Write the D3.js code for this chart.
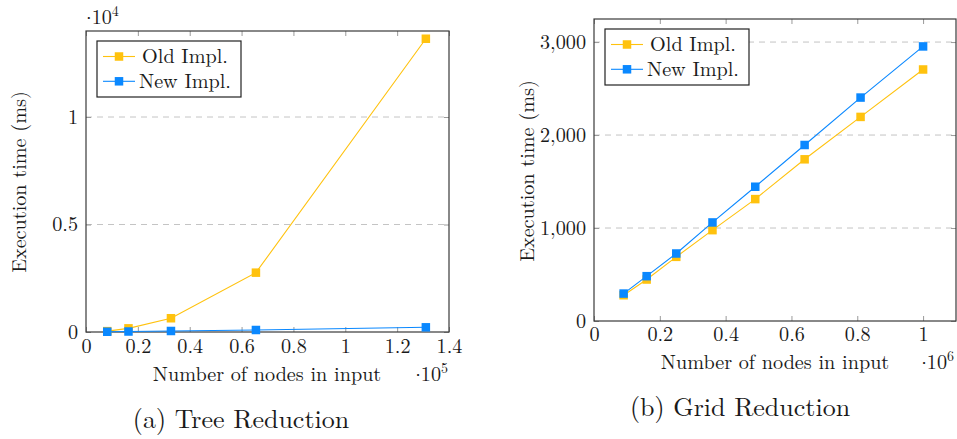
<!DOCTYPE html>
<html><head><meta charset="utf-8">
<script src="https://cdn.jsdelivr.net/npm/d3@7"></script>
<style>
body{margin:0;background:#fff;}
</style></head>
<body><svg id="c" width="957" height="439"></svg>
<script>
// Tree reduction (left)
const treeNodes = [8192, 16384, 32768, 65536, 131072];
const treeOld = [40, 170, 640, 2760, 13640];
const treeNew = [12, 23, 47, 93, 218];
const treeXTicks = [0, 0.2, 0.4, 0.6, 0.8, 1, 1.2, 1.4];
const treeYTicks = [0, 0.5, 1];

// Grid reduction (right)
const gridNodes = [90000, 160000, 250000, 360000, 490000, 640000, 810000, 1000000];
const gridOld = [277, 446, 690, 977, 1311, 1739, 2195, 2705];
const gridNew = [295, 482, 726, 1060, 1444, 1893, 2403, 2953];
const gridXTicks = [0, 0.2, 0.4, 0.6, 0.8, 1];
const gridYTicks = [0, 1000, 2000, 3000];

const seriesNames = ["Old Impl.", "New Impl."];
const colors = ["#FFC20E", "#0A88FF"];

const FONT = '"Latin Modern Roman","DejaVu Serif",serif';
const FS = 20.2;
const svg = d3.select("#c");
const T = (sel, size) => sel.style("font-family", FONT).style("font-size", size + "px").style("fill", "#1a1a1a");

function expLabel(parent, xPos, yPos, anchor, exp) {
  const t = T(parent.append("text").attr("x", xPos).attr("y", yPos).attr("text-anchor", anchor), FS);
  t.append("tspan").attr("dy", -5).text(".");
  t.append("tspan").attr("dy", 5).text("10");
  t.append("tspan").attr("dy", -8).style("font-size", "14px").text(exp);
  return t;
}

function panel(cfg){
  const g = svg.append("g");
  const x = d3.scaleLinear().domain(cfg.xDomain).range([cfg.left, cfg.right]);
  const y = d3.scaleLinear().domain(cfg.yDomain).range([cfg.bottom, cfg.top]);
  g.selectAll(".grid").data(cfg.yTicks.filter(v=>v>0)).enter().append("line")
    .attr("x1", cfg.left).attr("x2", cfg.right)
    .attr("y1", d=>y(d*cfg.yMul)).attr("y2", d=>y(d*cfg.yMul))
    .attr("stroke", "#c4c4c4").attr("stroke-width", 1).attr("stroke-dasharray", "6,5");
  const fmtX = cfg.xFmt, fmtY = cfg.yFmt;
  const xAxisB = d3.axisBottom(x).tickValues(cfg.xTicks.map(v=>v*cfg.xMul)).tickSize(-5).tickPadding(cfg.xPad).tickFormat(d=>fmtX(d/cfg.xMul));
  const xAxisT = d3.axisTop(x).tickValues(cfg.xTicks.map(v=>v*cfg.xMul)).tickSize(-5).tickFormat("");
  const yAxisL = d3.axisLeft(y).tickValues(cfg.yTicks.map(v=>v*cfg.yMul)).tickSize(-5).tickPadding(8).tickFormat(d=>fmtY(d/cfg.yMul));
  const yAxisR = d3.axisRight(y).tickValues(cfg.yTicks.map(v=>v*cfg.yMul)).tickSize(-5).tickFormat("");
  const styleAxis = sel => {
    sel.select(".domain").remove();
    sel.selectAll(".tick line").attr("stroke", "#9a9a9a");
    T(sel.selectAll(".tick text"), FS);
  };
  g.append("g").attr("transform", `translate(0,${cfg.bottom})`).call(xAxisB).call(styleAxis);
  g.append("g").attr("transform", `translate(0,${cfg.top})`).call(xAxisT).call(styleAxis);
  g.append("g").attr("transform", `translate(${cfg.left},0)`).call(yAxisL).call(styleAxis);
  g.append("g").attr("transform", `translate(${cfg.right},0)`).call(yAxisR).call(styleAxis);
  g.append("rect").attr("x", cfg.left).attr("y", cfg.top)
    .attr("width", cfg.right-cfg.left).attr("height", cfg.bottom-cfg.top)
    .attr("fill", "none").attr("stroke", "#3a3a3a").attr("stroke-width", 1.2);
  const line = d3.line().x(d=>x(d[0])).y(d=>y(d[1]));
  cfg.series.forEach((vals, i) => {
    const pts = cfg.xs.map((xv, j) => [xv, vals[j]]);
    g.append("path").datum(pts).attr("d", line).attr("fill", "none")
      .attr("stroke", colors[i]).attr("stroke-width", 1.1);
    g.selectAll(".m"+i).data(pts).enter().append("rect")
      .attr("x", d=>x(d[0])-4.25).attr("y", d=>y(d[1])-4.25)
      .attr("width", 8.5).attr("height", 8.5).attr("fill", colors[i]);
  });
  const lg = g.append("g");
  lg.append("rect").attr("x", cfg.legX).attr("y", cfg.legY).attr("width", 144).attr("height", 56)
    .attr("fill", "#fff").attr("stroke", "#222").attr("stroke-width", 1.2);
  seriesNames.forEach((name, i) => {
    const ry = cfg.legY + 15.5 + i*24.8;
    lg.append("line").attr("x1", cfg.legX+6).attr("x2", cfg.legX+38).attr("y1", ry).attr("y2", ry)
      .attr("stroke", colors[i]).attr("stroke-width", 1.1);
    lg.append("rect").attr("x", cfg.legX+22-4.25).attr("y", ry-4.25).attr("width", 8.5).attr("height", 8.5).attr("fill", colors[i]);
    T(lg.append("text").attr("x", cfg.legX+88).attr("y", ry+6.5).attr("text-anchor", "middle"), FS).text(name);
  });
  T(g.append("text").attr("x", cfg.xlabX).attr("y", cfg.xlabY).attr("text-anchor", "middle"), FS)
    .text("Number of nodes in input");
  expLabel(g, cfg.xExpEnd, cfg.xlabY, "end", cfg.xExp);
  T(g.append("text").attr("transform", `translate(${cfg.ylabX},${cfg.ylabY}) rotate(-90)`)
    .attr("text-anchor", "middle"), FS).text("Execution time (ms)");
  if (cfg.yExp) expLabel(g, cfg.left, 24, "start", cfg.yExp);
  T(g.append("text").attr("x", cfg.capX).attr("y", cfg.capY).attr("text-anchor", "middle"), 26)
    .text(cfg.caption);
}

panel({
  left: 86, right: 449, top: 31, bottom: 332,
  xDomain: [0, 140000], yDomain: [0, 14000], xMul: 1e5, yMul: 1e4,
  xTicks: treeXTicks, yTicks: treeYTicks, xPad: 7,
  xFmt: d3.format(""), yFmt: d3.format(""),
  xs: treeNodes, series: [treeOld, treeNew],
  legX: 97, legY: 41,
  xlabX: 267, xlabY: 381, xExpEnd: 448, xExp: "5", yExp: "4",
  ylabX: 26, ylabY: 182,
  capX: 241, capY: 428, caption: "(a) Tree Reduction"
});

panel({
  left: 594, right: 956, top: 19, bottom: 321,
  xDomain: [0, 1100000], yDomain: [0, 3248], xMul: 1e6, yMul: 1,
  xTicks: gridXTicks, yTicks: gridYTicks, xPad: 6,
  xFmt: d3.format(""), yFmt: d3.format(","),
  xs: gridNodes, series: [gridOld, gridNew],
  legX: 605, legY: 29,
  xlabX: 775, xlabY: 369, xExpEnd: 954, xExp: "6", yExp: null,
  ylabX: 534, ylabY: 171,
  capX: 740, capY: 416, caption: "(b) Grid Reduction"
});
</script></body></html>
